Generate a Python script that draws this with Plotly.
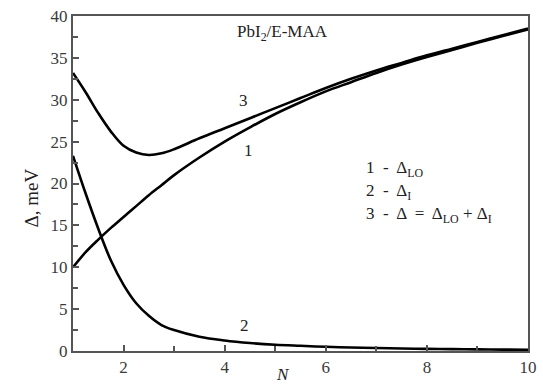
import plotly.graph_objects as go

n_vals = [1, 1.25, 1.5, 1.75, 2, 2.25, 2.5, 2.75, 3, 3.5, 4, 4.5, 5, 5.5, 6, 6.5, 7, 7.5, 8, 8.5, 9, 9.5, 10]
delta_lo = [10.0, 11.8, 13.3, 14.7, 16.0, 17.3, 18.6, 19.8, 21.0, 23.1, 25.0, 26.7, 28.3, 29.7, 31.0, 32.1, 33.2, 34.2, 35.1, 35.95, 36.8, 37.6, 38.4]
delta_i = [23.3, 18.8, 14.6, 10.8, 7.9, 5.7, 4.2, 3.1, 2.5, 1.7, 1.25, 0.95, 0.75, 0.62, 0.5, 0.42, 0.35, 0.3, 0.25, 0.22, 0.2, 0.17, 0.15]
delta_sum = [33.2, 30.9, 28.4, 26.2, 24.5, 23.7, 23.4, 23.6, 24.1, 25.4, 26.6, 27.8, 29.0, 30.2, 31.4, 32.5, 33.5, 34.4, 35.3, 36.1, 36.9, 37.7, 38.5]

x_ticks = [2, 4, 6, 8, 10]
y_ticks = [0, 5, 10, 15, 20, 25, 30, 35, 40]

font = "Liberation Serif"

fig = go.Figure()
for ys in [delta_lo, delta_i, delta_sum]:
    fig.add_trace(go.Scatter(x=n_vals, y=ys, mode="lines",
                             line=dict(color="black", width=2.6, shape="spline", smoothing=1.0),
                             showlegend=False, hoverinfo="skip"))

axis_style = dict(showline=True, linecolor="#555", linewidth=2, mirror=True,
                  ticks="inside", ticklen=6, tickcolor="#555", tickwidth=1.5,
                  showgrid=False, zeroline=False, automargin=False,
                  tickfont=dict(family=font, size=17, color="#3a3a3a"))

fig.update_xaxes(range=[1, 10], tickvals=x_ticks,
                 minor=dict(dtick=1, tick0=0, ticks="inside", ticklen=5, tickcolor="#555", tickwidth=1.5),
                 **axis_style)
fig.update_yaxes(range=[0, 40], tickvals=y_ticks,
                 minor=dict(dtick=2.5, tick0=0, ticks="inside", ticklen=5, tickcolor="#555", tickwidth=1.5),
                 **axis_style)

# plot area in pixels: x 73..528, y 16..351
L, R, T, B = 73, 528, 16, 351

txt = dict(family=font, size=17, color="#222")
notes = [
    (282, 33, "PbI<sub>2</sub>/E-MAA", "center"),
    (243, 101, "3", "center"),
    (248, 150, "1", "center"),
    (244, 325, "2", "center"),
    (364, 169, "1  -  Δ<sub>LO</sub>", "left"),
    (364, 192, "2  -  Δ<sub>I</sub>", "left"),
    (364, 215, "3  -  Δ  =  Δ<sub>LO</sub> + Δ<sub>I</sub>", "left"),
    (283, 374, "<i>N</i>", "center"),
]
for px_, py_, t, al in notes:
    fig.add_annotation(x=(px_ - L) / (R - L), y=(B - py_) / (B - T), xref="paper", yref="paper",
                       text=t, showarrow=False, xanchor=al, yanchor="middle",
                       font=txt)

fig.add_annotation(x=(18 - L) / (R - L), y=(B - 198) / (B - T), xref="paper", yref="paper",
                   text="Δ, meV", textangle=-90, showarrow=False,
                   font=dict(family=font, size=19, color="#222"))

fig.update_layout(width=543, height=387,
                  margin=dict(l=L, r=543 - R, t=T, b=387 - B),
                  plot_bgcolor="white", paper_bgcolor="white")

# page has a default body margin; drop it so the figure sits at the corner
fig.write_html("out.html", config={"displayModeBar": False},
               post_script="document.body.style.margin='0';")
